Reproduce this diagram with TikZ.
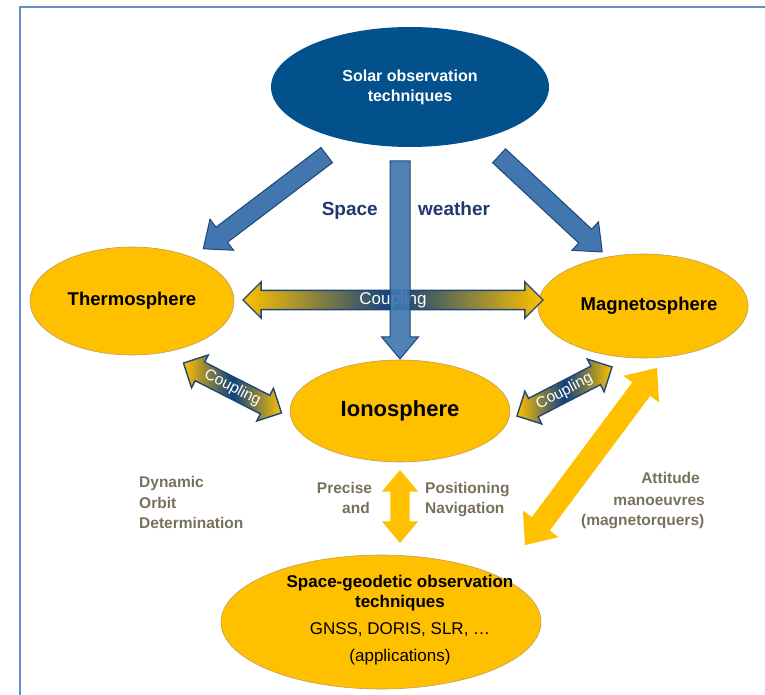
\documentclass[tikz,border=0pt]{standalone}
\usepackage{fontspec}
\setmainfont{Liberation Sans}
\usetikzlibrary{shapes.geometric,shapes.arrows}
\definecolor{gold}{RGB}{255,192,0}
\definecolor{solarblue}{RGB}{2,80,140}
\definecolor{arrowblue}{RGB}{65,119,174}
\definecolor{arrowedge}{RGB}{30,70,120}
\definecolor{navytext}{RGB}{31,56,110}
\definecolor{graytext}{RGB}{120,113,90}
\definecolor{framecol}{RGB}{95,145,205}
\definecolor{couplenavy}{RGB}{15,65,125}
\definecolor{elledge}{RGB}{185,160,90}
\begin{document}
\begin{tikzpicture}[x=1pt,y=1pt,
  yell/.style={ellipse, fill=gold, draw=elledge, line width=0.6pt, inner sep=0pt, align=center},
  bluearrow/.style={single arrow, fill=arrowblue, draw=arrowedge, line width=1pt, inner xsep=0pt,
    inner ysep=9pt, single arrow head extend=10pt, single arrow tip angle=80},
  couple/.style={double arrow, draw=arrowedge, line width=1.4pt, inner xsep=0pt,
    left color=gold, right color=gold, middle color=couplenavy, text=white,
    double arrow tip angle=90},
  yarrow/.style={double arrow, fill=gold, inner xsep=0pt, double arrow tip angle=80},
  annot/.style={text=graytext, font=\fontsize{15.5}{18}\selectfont\bfseries, inner sep=0pt},
  geotext/.style={inner sep=0pt, font=\fontsize{17}{20}\selectfont}
]
\useasboundingbox (0,0) rectangle (765,-695);
% frame
\draw[framecol, line width=2pt] (19.5,-695) -- (19.5,-7) -- (765,-7);

% ellipses
\node[ellipse, fill=solarblue, inner sep=0pt, minimum width=278pt, minimum height=120pt,
  text=white, align=center, font=\fontsize{16}{20}\selectfont\bfseries] (solar) at (410,-87)
  {Solar observation\\techniques};
\node[yell, minimum width=204pt, minimum height=108pt, font=\fontsize{18.5}{22}\selectfont\bfseries]
  (thermo) at (132,-301) {Thermosphere};
\node[yell, minimum width=188pt, minimum height=104pt, font=\fontsize{18.5}{22}\selectfont\bfseries]
  (magneto) at (643,-306) {\hspace*{12pt}Magnetosphere};
\node[yell, minimum width=220pt, minimum height=102pt, font=\fontsize{22}{26}\selectfont\bfseries]
  (iono) at (400,-411) {Ionosphere};
\node[yell, minimum width=320pt, minimum height=134pt] (geo) at (381,-622) {};
\node[geotext, font=\fontsize{17}{20}\selectfont\bfseries, anchor=base] (geo1) at (400,-587) {Space-geodetic observation};
\node[geotext, font=\fontsize{17}{20}\selectfont\bfseries, anchor=base] (geo2) at (400,-607) {techniques};
\node[geotext, anchor=base] (geo3) at (400,-634) {GNSS, DORIS, SLR, …};
\node[geotext, anchor=base] (geo4) at (400,-661) {(applications)};

% blue space weather arrows
\node[bluearrow, minimum height=155pt, rotate=217.2] (bleft) at (269.5,-198.5) {};
\node[bluearrow, minimum height=141pt, rotate=-43] (bright) at (546.5,-200) {};

% coupling arrows
\node[couple, minimum height=300pt, inner ysep=1pt, double arrow head extend=8.5pt,
  font=\fontsize{17}{17}\selectfont] (chor) at (393,-300) {Coupling};
\node[couple, minimum height=110pt, inner ysep=2.5pt, double arrow head extend=8pt,
  rotate=-27, font=\fontsize{15.5}{15.5}\selectfont] (cleft) at (232.5,-388) {Coupling};
\node[couple, minimum height=107pt, inner ysep=2.5pt, double arrow head extend=8pt,
  rotate=27.3, font=\fontsize{15.5}{15.5}\selectfont] (cright) at (564.5,-391.5) {Coupling};

% middle blue arrow (on top of the coupling arrow)
\node[bluearrow, minimum height=198pt, inner ysep=9.5pt, single arrow head extend=8.5pt,
  rotate=-90, fill opacity=0.92] (bmid) at (400,-254) {};

% yellow arrows
\node[yarrow, minimum height=73pt, inner ysep=9.5pt, double arrow head extend=8.5pt,
  rotate=90] (yvert) at (400,-506.5) {};
\node[yarrow, minimum height=221pt, inner ysep=11pt, double arrow head extend=11pt,
  rotate=53.3] (ydiag) at (591,-456.5) {};

% labels
\node[text=navytext, font=\fontsize{19}{22}\selectfont\bfseries, inner sep=0pt, anchor=base east]
  (space) at (378,-215) {Space};
\node[text=navytext, font=\fontsize{19}{22}\selectfont\bfseries, inner sep=0pt, anchor=base west]
  (weather) at (418,-215) {weather};

\node[annot, anchor=base west] (dyn1) at (139,-487.3) {Dynamic};
\node[annot, anchor=base west] (dyn2) at (139,-508.3) {Orbit};
\node[annot, anchor=base west] (dyn3) at (139,-528.3) {Determination};

\node[annot, anchor=base east] (pre1) at (372.3,-493.3) {Precise};
\node[annot, anchor=base east] (pre2) at (370,-513.3) {and};
\node[annot, anchor=base west] (pos1) at (425,-493.3) {Positioning};
\node[annot, anchor=base west] (pos2) at (425,-513.3) {Navigation};

\node[annot, anchor=base east] (att1) at (700,-483.3) {Attitude};
\node[annot, anchor=base east] (att2) at (705,-505) {manoeuvres};
\node[annot, anchor=base east] (att3) at (704.5,-525) {(magnetorquers)};
\end{tikzpicture}
\end{document}
